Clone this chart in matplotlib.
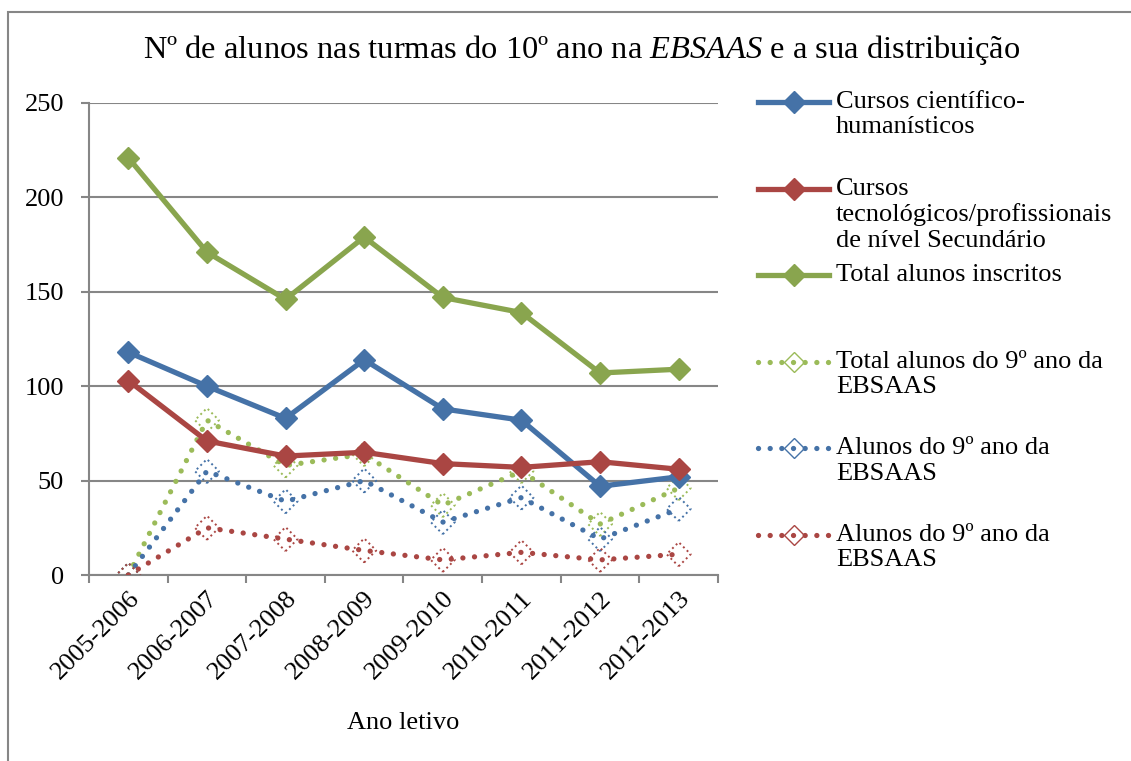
import matplotlib
matplotlib.use('Agg')
import matplotlib.pyplot as plt
from matplotlib.lines import Line2D
from matplotlib.patches import Rectangle
import numpy as np

plt.rcParams['font.family'] = ['Liberation Serif', 'DejaVu Serif']
plt.rcParams['mathtext.fontset'] = 'custom'
plt.rcParams['mathtext.rm'] = 'Liberation Serif'
plt.rcParams['mathtext.it'] = 'Liberation Serif:italic'

# dados
anos = ['2005-2006', '2006-2007', '2007-2008', '2008-2009',
        '2009-2010', '2010-2011', '2011-2012', '2012-2013']
cientifico = [118, 100, 83, 114, 88, 82, 47, 52]
tecnologico = [103, 71, 63, 65, 59, 57, 60, 56]
total_inscritos = [221, 171, 146, 179, 147, 139, 107, 109]
total_9ano = [0, 82, 58, 64, 37, 55, 27, 46]
alunos_9ano_azul = [0, 55, 39, 50, 28, 41, 19, 35]
alunos_9ano_verm = [0, 25, 19, 13, 8, 12, 8, 11]

labels = ['Cursos científico-\nhumanísticos',
          'Cursos\ntecnológicos/profissionais\nde nível Secundário',
          'Total alunos inscritos',
          'Total alunos do 9º ano da\nEBSAAS',
          'Alunos do 9º ano da\nEBSAAS',
          'Alunos do 9º ano da\nEBSAAS']

azul = '#4572A7'
verm = '#AA4643'
verde = '#89A54E'
verde_claro = '#9BBB59'
cinza = '#868686'

W, H = 1131, 761
fig = plt.figure(figsize=(W / 100, H / 100), dpi=100)
ax = fig.add_axes([89 / W, 1 - 575 / H, (718 - 89) / W, (575 - 103) / H])

# moldura do grafico
fig.add_artist(Rectangle((8 / W, -0.1), 1.2, 1.1 - 12 / H, transform=fig.transFigure,
                         fill=False, edgecolor=cinza, linewidth=1.5))

x = np.arange(len(anos))
solidas = [(cientifico, azul), (tecnologico, verm), (total_inscritos, verde)]
pontilhadas = [(total_9ano, verde_claro), (alunos_9ano_azul, azul), (alunos_9ano_verm, verm)]

dot_lw = 3.8
dot_style = (0, (0.01, 2.2))

for vals, c in pontilhadas:
    ax.plot(x, vals, color=c, linewidth=dot_lw, linestyle=dot_style, dash_capstyle='round', zorder=3)
    ax.scatter(x, vals, marker='D', s=150, facecolors='none', edgecolors=c,
               linestyles=':', linewidths=1.4, zorder=4)

for vals, c in solidas:
    ax.plot(x, vals, color=c, linewidth=3.8, marker='D', markersize=11.5, zorder=5)

ax.set_xlim(-0.5, 7.5)
ax.set_ylim(0, 250)
ax.set_yticks(np.arange(0, 251, 50))
ax.grid(axis='y', color=cinza, linewidth=1.5)
ax.set_axisbelow(True)
for s in ['top', 'right']:
    ax.spines[s].set_visible(False)
for s in ['left', 'bottom']:
    ax.spines[s].set_color(cinza)
    ax.spines[s].set_linewidth(1.5)

ax.set_xticks(x)
ax.set_xticklabels(anos, rotation=45, ha='right', rotation_mode='anchor')
ax.set_xticks(np.arange(-0.5, 8, 1), minor=True)
ax.tick_params(axis='x', which='major', length=0, labelsize=19, pad=9)
ax.tick_params(axis='x', which='minor', length=6, color=cinza, width=1.5)
ax.tick_params(axis='y', length=6, color=cinza, width=1.5, labelsize=19, pad=12)

ax.set_xlabel('Ano letivo', fontsize=19, labelpad=20)

fig.text(582 / W, 1 - 50 / H, 'Nº de alunos nas turmas do 10º ano na $\\it{EBSAAS}$ e a sua distribuição',
         ha='center', va='center', fontsize=23.4)

# legenda feita a mao (espacamento irregular como no Excel)
estilos = [('-', azul, True), ('-', verm, True), ('-', verde, True),
           (dot_style, verde_claro, False), (dot_style, azul, False), (dot_style, verm, False)]
y0 = 102
for i, (lab, (ls, c, cheio)) in enumerate(zip(labels, estilos)):
    yy = 1 - (y0 + i * 86.6) / H
    if cheio:
        fig.add_artist(Line2D([758 / W, 829 / W], [yy, yy], transform=fig.transFigure,
                              color=c, linewidth=3.8))
        fig.add_artist(Line2D([794 / W], [yy], transform=fig.transFigure, color=c,
                              marker='D', markersize=11, linestyle='none'))
    else:
        fig.add_artist(Line2D([758 / W, 829 / W], [yy, yy], transform=fig.transFigure,
                              color=c, linewidth=dot_lw, linestyle=ls, dash_capstyle='round'))
        fig.add_artist(Line2D([794 / W], [yy], transform=fig.transFigure, color=c,
                              marker='D', markersize=10, markerfacecolor='none',
                              markeredgewidth=1.0, linestyle='none'))
    fig.text(836 / W, yy + 11 / H, lab, ha='left', va='top', fontsize=19, linespacing=1.2)

fig.savefig('out.png', dpi=100)
